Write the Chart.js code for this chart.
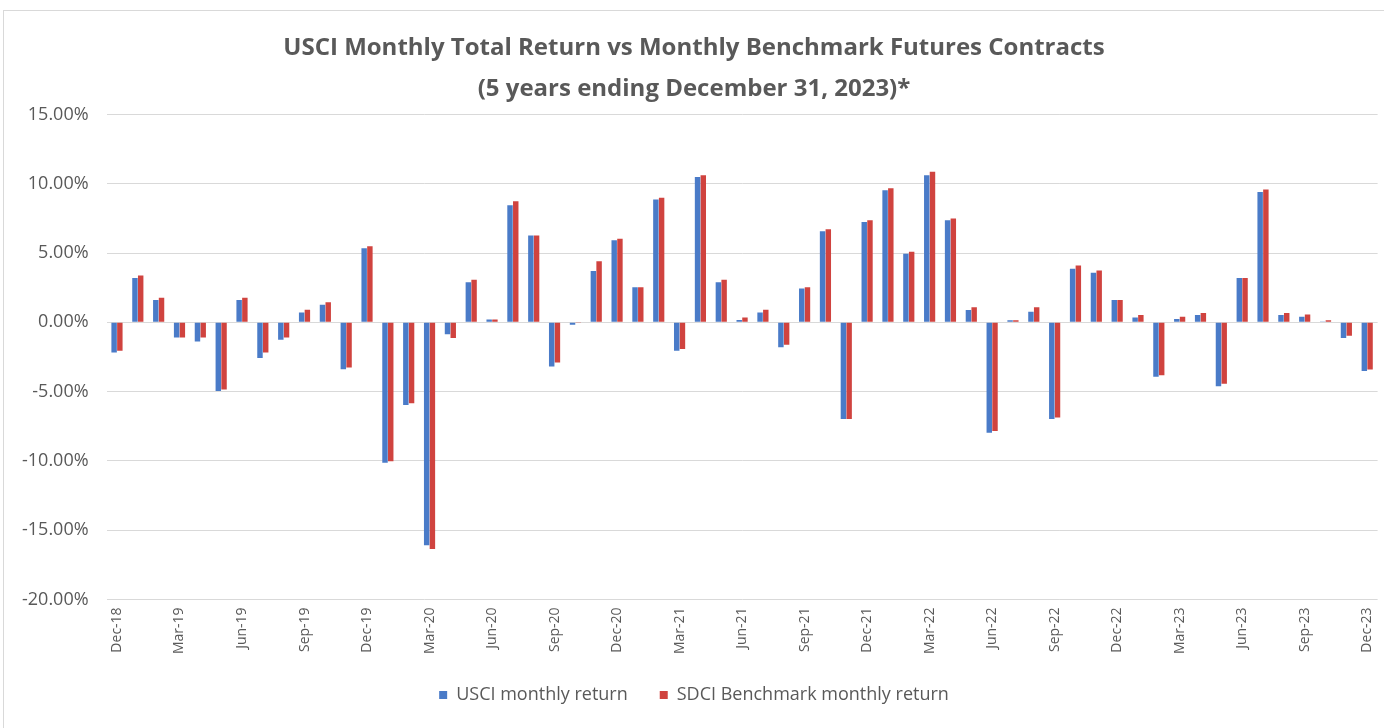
<!DOCTYPE html>
<html>
<head>
<meta charset="utf-8">
<script src="https://cdn.jsdelivr.net/npm/chart.js@4"></script>
<style>
  html, body { margin: 0; padding: 0; background: #fff; }
  #wrap { position: absolute; left: 3px; top: 10px; width: 1381px; height: 718px; border-left: 1px solid #d9d9d9; border-top: 1px solid #d9d9d9; box-sizing: border-box; }
</style>
</head>
<body>
<div id="wrap"><canvas id="myBarChart"></canvas></div>
<script>
// months Dec-18 .. Dec-23
const months = [
  'Dec-18','Jan-19','Feb-19','Mar-19','Apr-19','May-19','Jun-19','Jul-19','Aug-19','Sep-19','Oct-19','Nov-19',
  'Dec-19','Jan-20','Feb-20','Mar-20','Apr-20','May-20','Jun-20','Jul-20','Aug-20','Sep-20','Oct-20','Nov-20',
  'Dec-20','Jan-21','Feb-21','Mar-21','Apr-21','May-21','Jun-21','Jul-21','Aug-21','Sep-21','Oct-21','Nov-21',
  'Dec-21','Jan-22','Feb-22','Mar-22','Apr-22','May-22','Jun-22','Jul-22','Aug-22','Sep-22','Oct-22','Nov-22',
  'Dec-22','Jan-23','Feb-23','Mar-23','Apr-23','May-23','Jun-23','Jul-23','Aug-23','Sep-23','Oct-23','Nov-23',
  'Dec-23'
];

// monthly returns in %
const usciReturn = [
  -2.17, 3.2, 1.62, -1.09, -1.38, -4.95, 1.62, -2.58, -1.25, 0.72, 1.28, -3.38,
  5.36, -10.14, -5.96, -16.1, -0.85, 2.9, 0.2, 8.45, 6.28, -3.19, -0.17, 3.7,
  5.92, 2.54, 8.87, -2.05, 10.5, 2.9, 0.17, 0.72, -1.79, 2.44, 6.57, -6.98,
  7.25, 9.54, 4.95, 10.63, 7.37, 0.9, -7.97, 0.15, 0.77, -6.98, 3.87, 3.58,
  1.62, 0.36, -3.93, 0.24, 0.53, -4.61, 3.21, 9.42, 0.53, 0.41, 0.02, -1.13,
  -3.52
];
const sdciReturn = [
  -2.05, 3.38, 1.77, -1.09, -1.09, -4.85, 1.77, -2.17, -1.09, 0.92, 1.45, -3.26,
  5.5, -10.02, -5.84, -16.37, -1.13, 3.07, 0.2, 8.74, 6.28, -2.9, -0.05, 4.42,
  6.04, 2.54, 8.99, -1.93, 10.63, 3.07, 0.36, 0.92, -1.62, 2.54, 6.72, -6.98,
  7.37, 9.69, 5.1, 10.87, 7.49, 1.09, -7.85, 0.15, 1.09, -6.86, 4.11, 3.75,
  1.62, 0.53, -3.81, 0.41, 0.68, -4.44, 3.21, 9.59, 0.68, 0.56, 0.15, -0.96,
  -3.4
];

const yTicks = [-20, -15, -10, -5, 0, 5, 10, 15];

const font = "'Open Sans', sans-serif";
const grey = '#595959';

const ctx = document.getElementById('myBarChart').getContext('2d');

const myBarChart = new Chart(ctx, {
    type: 'bar',
    data: {
        labels: months,
        datasets: [{
            label: 'USCI monthly return',
            data: usciReturn,
            backgroundColor: '#4a7bc8',
            barPercentage: 0.95,
            categoryPercentage: 0.55
        }, {
            label: 'SDCI Benchmark monthly return',
            data: sdciReturn,
            backgroundColor: '#d0433f',
            barPercentage: 0.95,
            categoryPercentage: 0.55
        }]
    },
    options: {
        responsive: true,
        maintainAspectRatio: false,
        animation: false,
        layout: { padding: { left: 0, right: 0, top: 17, bottom: 14 } },
        plugins: {
            title: {
                display: true,
                text: ['USCI Monthly Total Return vs Monthly Benchmark Futures Contracts',
                       '(5 years ending December 31, 2023)*'],
                color: grey,
                font: { family: font, size: 24, weight: 'bold', lineHeight: 1.7 },
                padding: { top: 0, bottom: 5 }
            },
            legend: {
                position: 'bottom',
                labels: {
                    color: grey,
                    boxWidth: 8,
                    boxHeight: 8,
                    padding: 32,
                    font: { family: font, size: 18 }
                }
            },
            tooltip: { enabled: false }
        },
        scales: {
            x: {
                grid: { display: false },
                border: { display: false },
                ticks: {
                    autoSkip: false,
                    maxRotation: 90,
                    minRotation: 90,
                    padding: 0,
                    color: grey,
                    font: { family: font, size: 14 },
                    callback: function (v, i) { return i % 3 === 0 ? months[i] : ''; }
                }
            },
            y: {
                min: yTicks[0],
                max: yTicks[yTicks.length - 1],
                afterBuildTicks: function (axis) { axis.ticks = yTicks.map(v => ({ value: v })); },
                grid: { color: '#d9d9d9', drawTicks: false },
                border: { display: false },
                ticks: {
                    padding: 18,
                    color: grey,
                    font: { family: font, size: 18 },
                    callback: v => v.toFixed(2) + '%'
                }
            }
        }
    }
});
</script>
</body>
</html>
